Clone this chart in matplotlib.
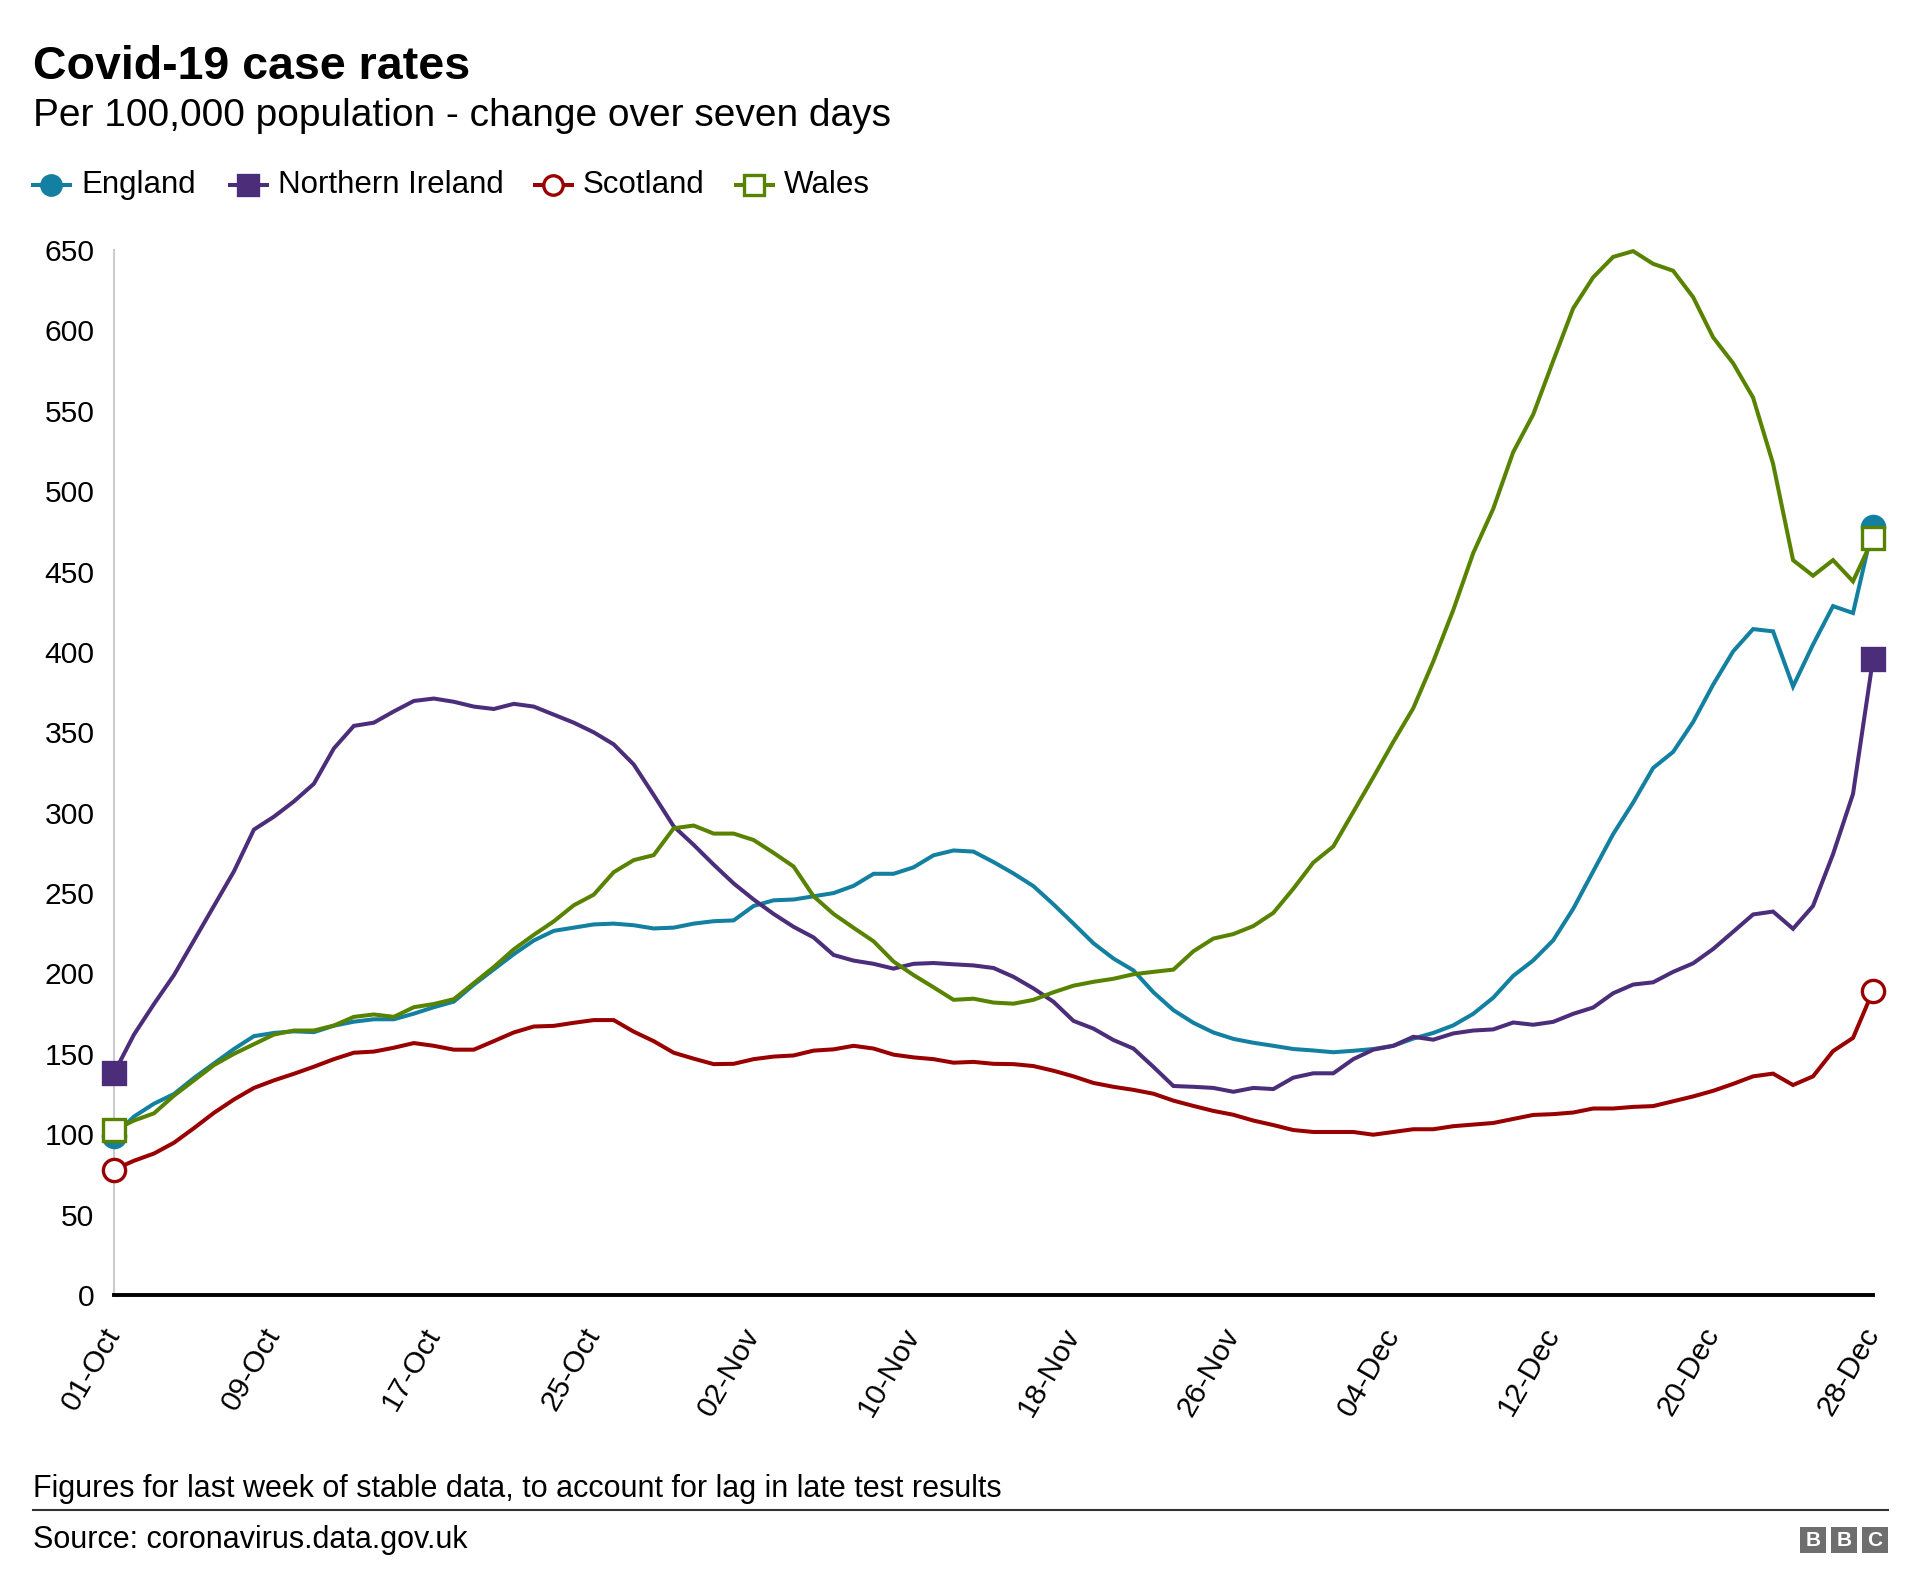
import numpy as np
import pandas as pd
import matplotlib
matplotlib.use("Agg")
import matplotlib.pyplot as plt
import matplotlib.dates as mdates
from matplotlib.lines import Line2D
from matplotlib.patches import Rectangle

plt.rcParams['font.family'] = ['Liberation Sans', 'DejaVu Sans']

# daily figures, 01-Oct to 28-Dec 2020
dates = pd.date_range('2020-10-01', '2020-12-28', freq='D')

england = [99, 111, 119, 125, 135, 144, 153, 161, 163, 164,
           163.5, 167.5, 170, 171.5, 171.5, 175, 179, 182.5, 193, 202.5,
           212, 220.5, 226.5, 228.5, 230.5, 231, 230, 228, 228.5, 231,
           232.5, 233, 242, 245.5, 246, 248, 250, 254.5, 262, 262,
           266, 273.5, 276.5, 275.8, 269.3, 262.2, 254.3, 243, 231, 218.8,
           209.3, 201.9, 188.3, 177.2, 169.3, 163.3, 159.3, 156.9, 155, 153,
           152.1, 151, 151.9, 153, 155, 159.5, 163, 167.7, 174.9, 184.9,
           198.5, 208.1, 220.6, 240.2, 263.5, 286.7, 306.3, 327.8, 337.8, 356.4,
           379.6, 400.3, 414.2, 412.8, 378.5, 404.6, 428.5, 424.2, 478]

n_ireland = [138, 162, 181, 199, 220.5, 242, 263.5, 289.5, 297.5, 307,
             318, 340, 354, 356, 363, 369.5, 371, 369, 366, 364.5,
             367.7, 366, 361, 356, 350, 342.5, 330, 311, 291.5, 280,
             267.7, 256, 246, 237, 229, 222.4, 211.5, 208, 206, 203,
             206, 206.5, 205.7, 205, 203.4, 197.9, 190.7, 182.4, 170.5, 165.7,
             158.6, 153.3, 141.9, 130, 129.5, 128.8, 126.4, 128.8, 128.1, 135.2,
             137.9, 137.9, 146.7, 152.6, 155, 160.6, 158.8, 162.7, 164.5, 165.2,
             169.5, 168.1, 169.9, 174.9, 178.8, 187.7, 193.1, 194.5, 201, 206.3,
             215.2, 225.9, 236.7, 238.5, 227.8, 242, 274.2, 311.7, 395.6]

scotland = [78, 83.5, 88, 94.7, 103.8, 113.3, 121.6, 128.8, 133.5, 137.6,
            142, 146.7, 150.7, 151.4, 153.8, 156.7, 155, 152.6, 152.6, 157.9,
            163.3, 167, 167.4, 169.3, 171, 171, 163.8, 157.9, 150.7, 147,
            143.6, 143.8, 146.7, 148.3, 149, 152, 152.8, 155, 153.3, 149.5,
            147.8, 146.7, 144.5, 145, 143.8, 143.6, 142.4, 139.5, 136, 131.9,
            129.5, 127.6, 125.2, 120.9, 117.6, 114.5, 112.1, 108.5, 105.7, 102.6,
            101.4, 101.4, 101.4, 99.7, 101.4, 103.1, 103.1, 105, 106, 107,
            109.5, 112, 112.5, 113.5, 116, 116, 117, 117.5, 120.5, 123.5,
            127, 131.3, 136, 137.7, 130.6, 136, 151.7, 159.9, 189.2]

wales = [102.6, 108.5, 113, 124, 133.5, 143, 150, 156, 162, 164.5,
         164.5, 167.6, 173, 174.5, 173, 179, 181, 184, 194, 204,
         215, 224, 232.4, 242.4, 249, 263, 270.5, 273.6, 290.3, 292,
         287, 287, 283, 275, 266.5, 248, 237, 228.4, 220, 207.4,
         199, 191.4, 183.6, 184.3, 181.9, 181.2, 183.6, 188.3, 192.4, 194.8,
         196.7, 199.5, 201, 202.4, 213.8, 221.7, 224.5, 229.5, 237.7, 252.7,
         269, 279, 300.5, 322, 344, 365, 394, 426, 461.5, 489,
         524.3, 547.7, 581, 613.7, 633, 645.7, 649.3, 641.4, 637.1, 620.7,
         595.7, 579.6, 558.2, 517.1, 457.1, 447.4, 457.1, 443.9, 470.6]

names = ['England', 'Northern Ireland', 'Scotland', 'Wales']
colors = ['#1380A1', '#4B2D7A', '#990000', '#588300']
markers = ['o', 's', 'o', 's']
fills = ['#1380A1', '#4B2D7A', 'white', 'white']
series = [england, n_ireland, scotland, wales]

W, H = 1920, 1595
fig = plt.figure(figsize=(W / 100, H / 100), dpi=100)

# plot area: 01-Oct at x=114px, 28-Dec at x=1873px, 0 at y=1295px, 650 at y=250px
ax = fig.add_axes([114 / W, 1 - 1295 / H, (1873 - 114) / W, (1295 - 250) / H])

last = len(dates) - 1
for name, vals, c, m, fc, z in zip(names, series, colors, markers, fills, [3, 4, 5, 6]):
    ax.plot(dates, vals, color=c, lw=2.9, marker=m, markevery=[0, last],
            ms=16, mfc=fc, mec=c, mew=2.4, clip_on=False, zorder=z,
            solid_joinstyle='miter')

ax.set_xlim(dates[0], dates[-1])
ax.set_ylim(0, 650)
ax.set_yticks(np.arange(0, 651, 50))
ax.set_xticks(dates[::8])
ax.xaxis.set_major_formatter(mdates.DateFormatter('%d-%b'))

for s in ['top', 'right']:
    ax.spines[s].set_visible(False)
ax.spines['left'].set_color('#cccccc')
ax.spines['left'].set_linewidth(1.5)
ax.spines['bottom'].set_color('black')
ax.spines['bottom'].set_linewidth(2.8)
ax.spines['bottom'].set_zorder(7)

ax.tick_params(axis='y', length=0, pad=14, labelsize=21.6, labelcolor='black')
ax.tick_params(axis='x', length=0, pad=25, labelsize=21.6, labelcolor='black')
plt.setp(ax.get_xticklabels(), rotation=60, ha='right', va='center',
         rotation_mode='anchor')


def fx(px):
    return px / W


def fy(py):
    return 1 - py / H


# title block
fig.text(fx(33), fy(79), 'Covid-19 case rates', fontsize=33.5,
         fontweight='bold', color='black', va='baseline')
fig.text(fx(33), fy(126), 'Per 100,000 population - change over seven days',
         fontsize=28, color='black', va='baseline')

# legend row
leg_x = [33, 230, 535, 736]
for name, c, m, fc, x0 in zip(names, colors, markers, fills, leg_x):
    fig.add_artist(Line2D([fx(x0), fx(x0 + 18), fx(x0 + 37)], [fy(185)] * 3,
                          transform=fig.transFigure, color=c, lw=2.9,
                          marker=m, markevery=[1], ms=14, mfc=fc, mec=c, mew=2.4))
    fig.text(fx(x0 + 48), fy(185), name, fontsize=22.5, color='black',
             va='center')

# footer
fig.text(fx(33), fy(1497),
         'Figures for last week of stable data, to account for lag in late test results',
         fontsize=22, color='black', va='baseline')
fig.add_artist(Line2D([fx(33), fx(1888)], [fy(1510), fy(1510)],
                      transform=fig.transFigure, color='#333333', lw=1.5))
fig.text(fx(33), fy(1548), 'Source: coronavirus.data.gov.uk', fontsize=22,
         color='black', va='baseline')

for i, letter in enumerate('BBC'):
    x0 = 1800 + i * 31
    fig.add_artist(Rectangle((fx(x0), fy(1553)), 26 / W, 26 / H,
                             transform=fig.transFigure, color='#6e6e6e', lw=0))
    fig.text(fx(x0 + 13), fy(1540), letter, fontsize=15, fontweight='bold',
             color='white', ha='center', va='center')

fig.savefig('out.png', dpi=100, facecolor='white')
